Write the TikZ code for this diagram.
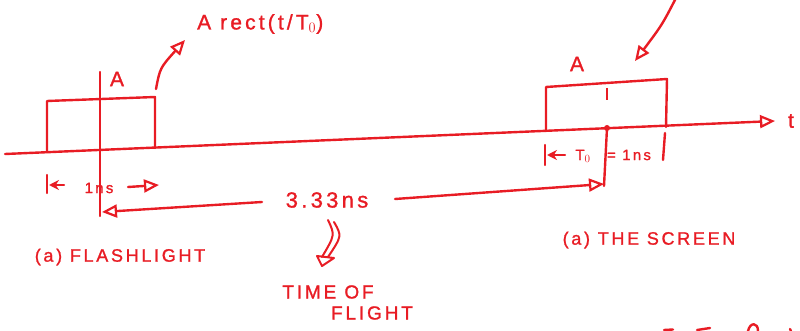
\documentclass[tikz,border=0pt]{standalone}
\usepackage{fontspec}
\newfontfamily\hand[LetterSpace=15,FakeBold=1.2]{Liberation Sans}
\usetikzlibrary{arrows.meta}
\definecolor{ink}{RGB}{232,28,36}
\begin{document}
\begin{tikzpicture}[x=1pt,y=-1pt,
  pen/.style={draw=ink, line width=2.4pt, line cap=round, line join=round},
  tri/.style={-{Triangle[open,length=15pt,width=13pt,line width=2.2pt]}},
  stl/.style={-{Stealth[length=10pt,width=10pt]}},
  lbl/.style={text=ink, inner sep=0pt, font=\hand\fontsize{18}{20}\selectfont},
  big/.style={lbl, font=\hand\fontsize{21}{23}\selectfont},
  small/.style={lbl, font=\hand\fontsize{15}{17}\selectfont}]
\useasboundingbox (0,0) rectangle (800,331);

% time axis
\coordinate (ax0) at (5,154);
\coordinate (ax1) at (775,121);
\draw[pen,tri] (ax0) -- (ax1);
\node[big] (t) at (791,121) {t};

% left pulse (flashlight)
\coordinate (l1) at (47,152);
\coordinate (l2) at (47,101);
\coordinate (l3) at (155,97);
\coordinate (l4) at (155,148);
\draw[pen] (l1) -- (l2) -- (l3) -- (l4);
\coordinate (va) at (100,72);
\coordinate (vb) at (100,216);
\draw[pen] (va) -- (vb);
\node[big] (Aleft) at (117,79) {A};
\coordinate (c1) at (156,89);
\coordinate (c2) at (185,40);
\draw[pen,tri] (c1) .. controls (160,68) .. (c2);
\node[big, anchor=west] (rect) at (197,24) {A rect(t/T$_0$)};

% right pulse (screen)
\coordinate (r1) at (546,130);
\coordinate (r2) at (546,87);
\coordinate (r3) at (667,79);
\coordinate (r4) at (666,127);
\draw[pen] (r1) -- (r2) -- (r3) -- (r4);
\coordinate (m1) at (607,88);
\coordinate (m2) at (607,100);
\draw[draw=ink, line width=1.4pt] (m1) -- (m2);
\coordinate (m3) at (607,128);
\coordinate (m4) at (604,186);
\fill[ink] (m3) circle (3);
\draw[pen] (m3) -- (m4);
\node[big] (Aright) at (577,64) {A};
\coordinate (d1) at (676,-2);
\coordinate (d2) at (635,61);
\draw[pen,tri] (d1) .. controls (662,25) .. (d2);

% 1ns below the flashlight pulse
\coordinate (k1) at (47,175);
\coordinate (k2) at (47,193);
\draw[pen] (k1) -- (k2);
\coordinate (k3) at (64,185);
\coordinate (k4) at (49,185);
\draw[pen,stl] (k3) -- (k4);
\node[small] (ons) at (99,188) {1ns};
\coordinate (k5) at (128,187);
\coordinate (k6) at (159,185);
\draw[pen,tri] (k5) -- (k6);

% 3.33 ns
\node[lbl, font=\hand\fontsize{22}{24}\selectfont] (tof) at (327,200) {3.33ns};
\coordinate (s1) at (262,202);
\coordinate (s2) at (102,212);
\draw[pen,tri] (s1) -- (s2);
\coordinate (s3) at (395,199);
\coordinate (s4) at (604,184);
\draw[pen,tri] (s3) -- (s4);

% implies arrow
\coordinate (i1) at (328,220);
\coordinate (i2) at (334,222);
\coordinate (ih) at (322,266);
\draw[pen, line width=2pt] (i1) .. controls (335,235) .. (322,257);
\draw[pen, line width=2pt] (i2) .. controls (342,236) .. (328,257);
\draw[pen, line width=2pt] (317,256) -- (ih) -- (334,258) -- cycle;

% T0 = 1ns
\coordinate (p1) at (545,145);
\coordinate (p2) at (545,165);
\draw[pen] (p1) -- (p2);
\coordinate (p3) at (565,155);
\coordinate (p4) at (547,155);
\draw[pen,stl] (p3) -- (p4);
\node[small] (T0) at (583,156) {T$_0$};
\node[small] (eq) at (629,155) {= 1ns};
\coordinate (p5) at (665,133);
\coordinate (p6) at (663,160);
\draw[pen] (p5) -- (p6);

% captions
\node[lbl] (fl) at (120,257) {(a) FLASHLIGHT};
\node[lbl, font=\hand\fontsize{19}{21}\selectfont] (time) at (328,292) {TIME OF};
\node[lbl, font=\hand\fontsize{19}{21}\selectfont] (flight) at (372,313) {FLIGHT};
\node[lbl] (scr) at (649,240) {(a) THE SCREEN};

% partial strokes at the lower edge
\draw[pen] (664,330) -- (673,329.5);
\draw[pen] (697,330) -- (710,328);
\draw[pen] (748,331) .. controls (750,322) and (758,322) .. (758,331);
\draw[pen] (790,329) -- (791,331);
\end{tikzpicture}
\end{document}
